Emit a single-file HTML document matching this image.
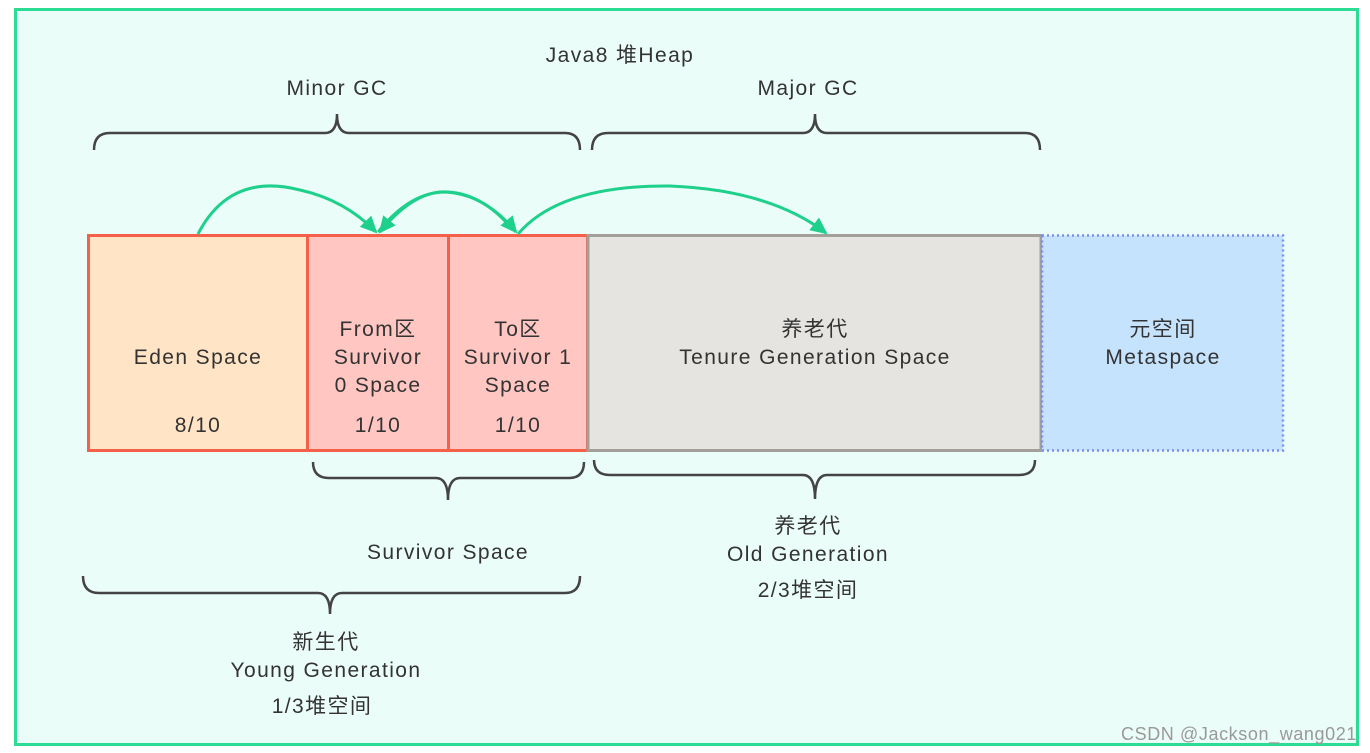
<!DOCTYPE html>
<html><head><meta charset="utf-8"><style>
html,body{margin:0;padding:0;background:#fff;}
svg{display:block;}
text{font-family:"Liberation Sans","Noto Sans CJK SC",sans-serif;font-size:21px;letter-spacing:1.4px;fill:#333;text-anchor:middle;}
</style></head><body>
<svg width="1370" height="753" viewBox="0 0 1370 753" xmlns="http://www.w3.org/2000/svg">
<defs>
<marker id="ah" markerWidth="18" markerHeight="16" refX="15" refY="8" orient="auto" markerUnits="userSpaceOnUse">
<path d="M0,0 L17,8 L0,16 Z" fill="#1fd08c"/>
</marker>
</defs>
<rect x="15.5" y="9.5" width="1342" height="735" fill="#ebfdf8" stroke="#2cdc95" stroke-width="3"/>

<text x="620" y="62">Java8 堆Heap</text>
<text x="337" y="95">Minor GC</text>
<text x="808" y="95">Major GC</text>

<g fill="none" stroke="#444" stroke-width="2.5">
<path d="M94,150 Q94,133 110,133 L325,133 Q337,133 337,114 Q337,133 349,133 L565,133 Q580,133 580,150"/>
<path d="M592,150 Q592,133 608,133 L803,133 Q815,133 815,114 Q815,133 827,133 L1025,133 Q1040,133 1040,150"/>
<path d="M313,462 Q313,478 329,478 L436,478 Q448,478 448,500 Q448,478 460,478 L569,478 Q584,478 584,462"/>
<path d="M594,460 Q594,475 610,475 L803,475 Q815,475 815,499 Q815,475 827,475 L1019,475 Q1035,475 1035,460"/>
<path d="M83,576 Q83,593 99,593 L318,593 Q330,593 330,614 Q330,593 342,593 L565,593 Q580,593 580,576"/>
</g>

<rect x="88.5" y="235.5" width="219" height="215" fill="#ffe4c6" stroke="#f5604a" stroke-width="3"/>
<rect x="307.5" y="235.5" width="141" height="215" fill="#ffc6c2" stroke="#f5604a" stroke-width="3"/>
<rect x="448.5" y="235.5" width="139" height="215" fill="#ffc6c2" stroke="#f5604a" stroke-width="3"/>
<rect x="588" y="235.5" width="453" height="215" fill="#e6e4e0" stroke="#a3a09a" stroke-width="3"/>
<rect x="1042" y="235.5" width="241" height="215" fill="#c6e3fd" stroke="#7b8cf3" stroke-width="2.5" stroke-dasharray="2,3"/>

<g fill="none" stroke="#1fd08c" stroke-width="3">
<path d="M198,234 Q230,172 300,190 Q345,200 376,232" marker-end="url(#ah)"/>
<path d="M518,234 Q560,185 670,186 Q770,190 826,233" marker-end="url(#ah)"/>
<path d="M513,230 Q480,190 440,192 Q410,195 380,232" marker-end="url(#ah)"/>
<path d="M378,232 Q410,192 445,192 Q485,194 516,232" marker-end="url(#ah)"/>
</g>

<text x="198" y="364">Eden Space</text>
<text x="198" y="432">8/10</text>
<text x="378" y="336">From区</text>
<text x="378" y="364">Survivor</text>
<text x="378" y="392">0 Space</text>
<text x="378" y="432">1/10</text>
<text x="518" y="336">To区</text>
<text x="518" y="364">Survivor 1</text>
<text x="518" y="392">Space</text>
<text x="518" y="432">1/10</text>
<text x="815" y="336">养老代</text>
<text x="815" y="364">Tenure Generation Space</text>
<text x="1163" y="336">元空间</text>
<text x="1163" y="364">Metaspace</text>

<text x="448" y="559">Survivor Space</text>
<text x="808" y="533">养老代</text>
<text x="808" y="561">Old Generation</text>
<text x="808" y="597">2/3堆空间</text>
<text x="326" y="649">新生代</text>
<text x="326" y="677">Young Generation</text>
<text x="322" y="713">1/3堆空间</text>

<text x="1239" y="740" style="font-size:18px;letter-spacing:0.6px;fill:#999;">CSDN @Jackson_wang021</text>
</svg>
</body></html>
